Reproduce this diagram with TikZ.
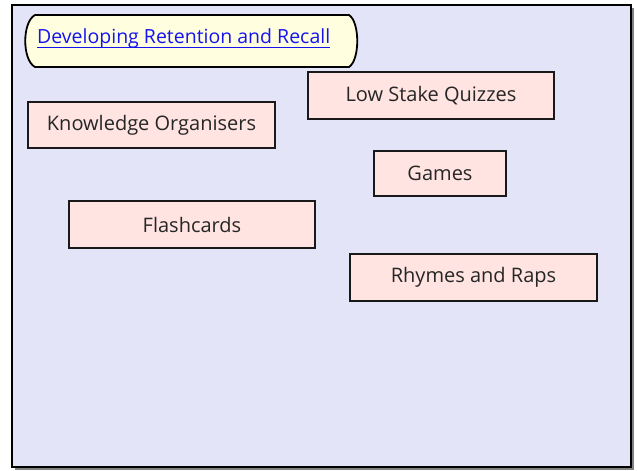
\documentclass[tikz,border=0pt]{standalone}
\usepackage{fontspec}
\setmainfont{Open Sans}
\definecolor{bg}{RGB}{227,228,248}
\definecolor{pinkbox}{RGB}{255,228,225}
\definecolor{titlefill}{RGB}{255,255,224}
\definecolor{linkblue}{RGB}{20,20,240}
\definecolor{shadowgray}{RGB}{130,130,130}
\begin{document}
\begin{tikzpicture}[x=1pt,y=-1pt,
  itembox/.style={draw=black!90, line width=1.8pt, fill=pinkbox, rectangle, inner sep=0pt,
    font=\fontsize{20}{22}\selectfont, text=black!85},
]
\useasboundingbox (0,0) rectangle (637,471);
% frame with shadow
\fill[shadowgray] (15,8) rectangle (634,470);
\draw[line width=1.8pt, fill=bg] (12,5) rectangle (631,467);
% title shape
\draw[line width=1.8pt, fill=titlefill]
  (35,15) -- (349,15) .. controls (360,22) and (360,60) .. (349,67)
  -- (35,67) .. controls (22,60) and (22,22) .. (35,15) -- cycle;
\node[anchor=base west, inner sep=0pt, text=linkblue, font=\fontsize{19.5}{22}\selectfont] (title) at (37,43) {Developing Retention and Recall};
\draw[linkblue, line width=0.9pt] ([yshift=-4pt]title.base west) -- ([yshift=-4pt]title.base east);
% boxes
\node[itembox, minimum width=246, minimum height=47] (lsq) at (431,95.5) {Low Stake Quizzes};
\node[itembox, minimum width=247, minimum height=46] (ko) at (151.5,125) {Knowledge Organisers};
\node[itembox, minimum width=132, minimum height=45] (games) at (440,173.5) {Games};
\node[itembox, minimum width=246, minimum height=47] (flash) at (192,224.5) {Flashcards};
\node[itembox, minimum width=247, minimum height=47] (rr) at (473.5,277.5) {Rhymes and Raps};
\end{tikzpicture}
\end{document}
